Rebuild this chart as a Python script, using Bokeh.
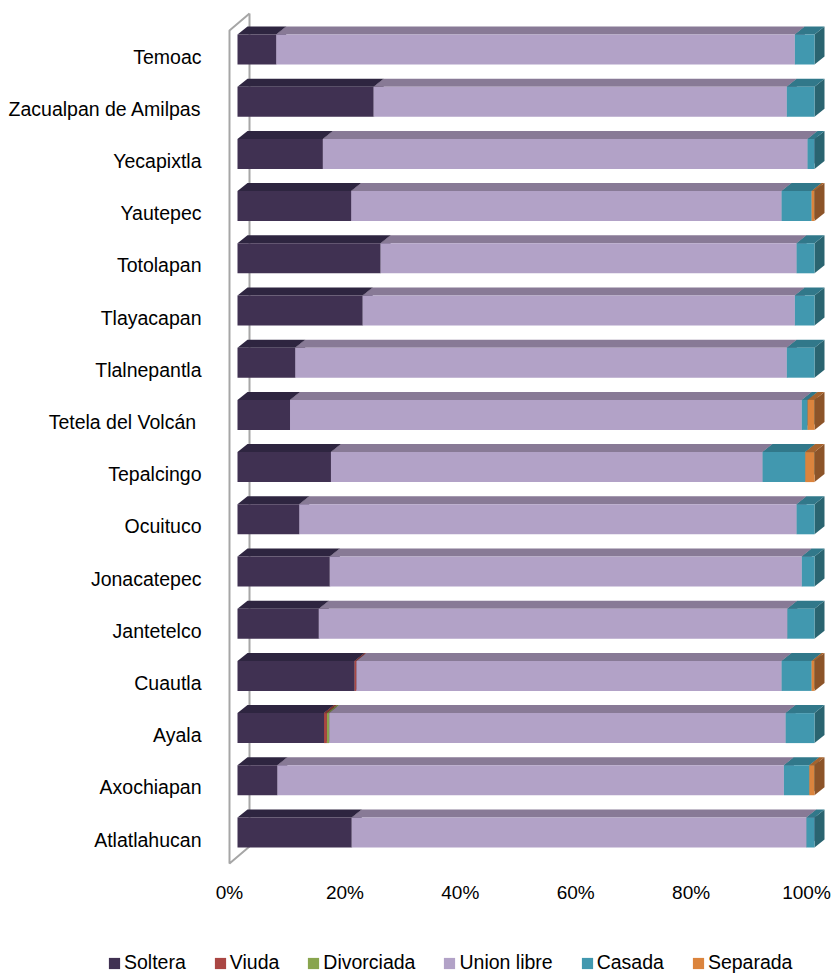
import numpy as np
from bokeh.plotting import figure
from bokeh.layouts import column
from bokeh.models import (Range1d, FixedTicker, PrintfTickFormatter, Legend, LegendItem,
                          ColumnDataSource)
from bokeh.embed import file_html
from bokeh.resources import INLINE

# ---------------- data (percent of each municipality) ----------------
categories = ["Temoac", "Zacualpan de Amilpas", "Yecapixtla", "Yautepec", "Totolapan",
              "Tlayacapan", "Tlalnepantla", "Tetela del Volcán ", "Tepalcingo", "Ocuituco",
              "Jonacatepec", "Jantetelco", "Cuautla", "Ayala", "Axochiapan", "Atlatlahucan"]
soltera    = [6.7, 23.6, 14.8, 19.7, 24.8, 21.7, 10.0, 9.1, 16.2, 10.7, 16.0, 14.1, 20.3, 15.0, 6.9, 19.8]
viuda      = [0, 0, 0, 0, 0, 0, 0, 0, 0, 0, 0, 0, 0.3, 0.5, 0, 0]
divorciada = [0, 0, 0, 0, 0, 0, 0, 0, 0, 0, 0, 0, 0, 0.4, 0, 0]
union      = [89.9, 71.6, 84.0, 74.6, 72.1, 74.9, 85.2, 88.7, 74.8, 86.2, 81.8, 81.2, 73.7, 79.1, 87.8, 78.8]
casada     = [3.4, 4.8, 1.2, 5.2, 3.1, 3.4, 4.8, 1.0, 7.4, 3.1, 2.2, 4.7, 5.2, 5.0, 4.4, 1.4]
separada   = [0, 0, 0, 0.5, 0, 0, 0, 1.2, 1.6, 0, 0, 0, 0.5, 0, 0.9, 0]
series_names = ["Soltera", "Viuda", "Divorciada", "Union libre", "Casada", "Separada"]
x_ticks = [0, 20, 40, 60, 80, 100]

# ---------------- style ----------------
front_colors = ["#403152", "#AA4643", "#89A54E", "#B2A2C7", "#4198AF", "#DB843D"]
top_colors   = ["#2E2540", "#80332F", "#677C3A", "#887A96", "#31788A", "#A5632E"]
side_colors  = ["#282036", "#6E2C29", "#576932", "#6F637B", "#2A6470", "#8C5429"]
FONT = "Liberation Sans"
W, H, H_LEG = 837, 930, 45
BORDER_L, BORDER_B = 220, 64
PX_X, PX_Y = 5.77, 52.2          # pixels per percent / per category
n = len(categories)

x_start = -9 / PX_X
x_end = x_start + (W - BORDER_L) / PX_X
y_end = (n - 1) + 56 / PX_Y
y_start = y_end - (H - BORDER_B) / PX_Y

p = figure(width=W, height=H, x_range=Range1d(x_start, x_end), y_range=Range1d(y_start, y_end),
           output_backend="svg", toolbar_location=None,
           min_border_left=BORDER_L, min_border_right=0, min_border_top=0, min_border_bottom=BORDER_B)
p.outline_line_color = None
p.grid.visible = False
p.background_fill_color = "white"
p.border_fill_color = "white"

# 3-D geometry (in data units)
off_x, off_y = 8 / PX_X, 7 / PX_Y          # bar front face vs. front plane
dep_x, dep_y = 10 / PX_X, 8 / PX_Y         # bar depth
wall_x, wall_y = 20 / PX_X, 17 / PX_Y      # back wall vs. front plane
bar_h = 30 / PX_Y
floor_y = -0.5 + 2 / PX_Y
ceil_y = (n - 1) + 26 / PX_Y

# wall lines
wall_col = "#A6A6A6"
p.line([wall_x, wall_x], [floor_y + wall_y, ceil_y + wall_y], line_color=wall_col, line_width=2)
p.line([wall_x, 0, 0, wall_x], [ceil_y + wall_y, ceil_y, floor_y, floor_y + wall_y],
       line_color=wall_col, line_width=2)

# stacked 3-D bars
data = np.array([soltera, viuda, divorciada, union, casada, separada], dtype=float)
ypos = np.arange(n)[::-1]
cum = np.zeros(n)
front_sources = []
for s, name in enumerate(series_names):
    sides_x, sides_y, tops_x, tops_y, fr_x, fr_y = [], [], [], [], [], []
    for k in range(n):
        v = data[s, k]
        a, b = cum[k] + off_x, cum[k] + v + off_x
        cum[k] += v
        if v <= 0:
            continue
        yc = ypos[k] + off_y
        yb, yt = yc - bar_h / 2, yc + bar_h / 2
        sides_x.append([b, b, b + dep_x, b + dep_x])
        sides_y.append([yb, yt, yt + dep_y, yb + dep_y])
        tops_x.append([a, b, b + dep_x, a + dep_x])
        tops_y.append([yt, yt, yt + dep_y, yt + dep_y])
        fr_x.append([a, b, b, a])
        fr_y.append([yb, yb, yt, yt])
    p.patches(sides_x, sides_y, fill_color=side_colors[s], line_color=None)
    p.patches(tops_x, tops_y, fill_color=top_colors[s], line_color=None)
    src = ColumnDataSource(dict(xs=fr_x, ys=fr_y))
    front_sources.append(src)
    p.patches(xs="xs", ys="ys", source=src, fill_color=front_colors[s], line_color=None)

# axes
p.xaxis.ticker = FixedTicker(ticks=x_ticks)
p.xaxis.formatter = PrintfTickFormatter(format="%d%%")
p.yaxis.ticker = FixedTicker(ticks=list(range(n)))
p.yaxis.major_label_overrides = {int(ypos[k]): categories[k] for k in range(n)}
for ax in (p.xaxis, p.yaxis):
    ax.axis_line_color = None
    ax.major_tick_line_color = None
    ax.minor_tick_line_color = None
    ax.major_label_text_font = FONT
    ax.major_label_text_color = "#000000"
p.xaxis.major_label_text_font_size = "19px"
p.yaxis.major_label_text_font_size = "19.5px"
p.xaxis.major_label_standoff = 9
p.yaxis.major_label_standoff = 13

# ---------------- legend strip (glyphs kept out of view, only the legend shows) ----------------
p2 = figure(width=W, height=H_LEG, x_range=Range1d(1e6, 1e6 + 1), y_range=Range1d(1e6, 1e6 + 1),
            output_backend="svg", toolbar_location=None, x_axis_type=None, y_axis_type=None,
            min_border_left=0, min_border_right=0, min_border_top=0, min_border_bottom=0)
p2.outline_line_color = None
p2.grid.visible = False
items = []
for s, name in enumerate(series_names):
    r = p2.patches(xs="xs", ys="ys", source=front_sources[s],
                   fill_color=front_colors[s], line_color=None)
    items.append(LegendItem(label=name, renderers=[r]))
legend = Legend(items=items, orientation="horizontal", location=(107, 1),
                glyph_width=14, glyph_height=14, label_standoff=3, spacing=27,
                padding=0, margin=0, border_line_color=None, background_fill_alpha=0,
                label_text_font=FONT, label_text_font_size="19.5px", label_text_color="#000000")
p2.add_layout(legend, "center")

layout = column(p, column(p2, spacing=0), spacing=0)
open("out.html", "w").write(file_html(layout, INLINE))
